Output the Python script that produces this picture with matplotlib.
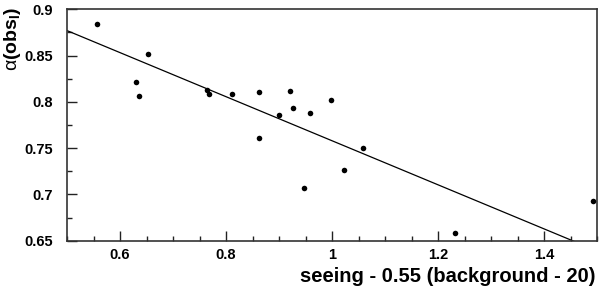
import matplotlib
matplotlib.use('Agg')
import matplotlib.pyplot as plt
import numpy as np
from matplotlib.ticker import MultipleLocator

# measured points
seeing = [0.556, 0.630, 0.636, 0.652, 0.765, 0.767, 0.811, 0.862, 0.862, 0.900,
          0.920, 0.927, 0.947, 0.959, 0.999, 1.022, 1.058, 1.232, 1.492]
alpha_obs = [0.884, 0.821, 0.806, 0.852, 0.813, 0.808, 0.808, 0.811, 0.761, 0.786,
             0.812, 0.793, 0.707, 0.788, 0.802, 0.726, 0.750, 0.658, 0.693]

# straight line fit: alpha = fit_a + fit_b * x
fit_a = 0.996
fit_b = -0.238

plt.rcParams['font.family'] = ['Liberation Sans', 'DejaVu Sans']
plt.rcParams['mathtext.fontset'] = 'custom'
plt.rcParams['mathtext.rm'] = 'Liberation Sans'
plt.rcParams['mathtext.bf'] = 'Liberation Sans:bold'

fig = plt.figure(figsize=(6, 2.89), dpi=100)
ax = fig.add_axes([67/600, 1 - 240.7/289, 530/600, 231.4/289])

ax.scatter(seeing, alpha_obs, s=16, color='black', zorder=3, linewidths=0)

xs = np.array([0.5, 1.5])
ax.plot(xs, fit_a + fit_b * xs, color='black', lw=0.9)

ax.set_xlim(0.5, 1.5)
ax.set_ylim(0.65, 0.9)
ax.xaxis.set_major_locator(MultipleLocator(0.2))
ax.xaxis.set_minor_locator(MultipleLocator(0.05))
ax.yaxis.set_major_locator(MultipleLocator(0.05))
ax.yaxis.set_minor_locator(MultipleLocator(0.025))
ax.xaxis.set_major_formatter(plt.FuncFormatter(lambda v, p: f'{v:g}'))
ax.yaxis.set_major_formatter(plt.FuncFormatter(lambda v, p: f'{v:g}'))

ax.tick_params(which='both', direction='in', width=1, color='#222222')
ax.tick_params(which='major', length=7)
ax.tick_params(which='minor', length=3.5)
ax.tick_params(axis='x', which='major', pad=5.5, labelsize=10.5)
ax.tick_params(axis='y', which='major', pad=10, labelsize=10.5)
for lbl in ax.get_xticklabels() + ax.get_yticklabels():
    lbl.set_fontweight('bold')

for sp in ax.spines.values():
    sp.set_linewidth(1.2)
    sp.set_color('#333333')

ax.text(-0.103, 1.01, r'$\mathrm{\alpha}$(obs$_{\mathbf{I}}$)', transform=ax.transAxes,
        rotation=90, ha='center', va='top', fontsize=14, fontweight='bold')
fig.text(595/600, 1 - 276.5/289, 'seeing - 0.55 (background - 20)',
         ha='right', va='center', fontsize=14.5, fontweight='bold')

fig.savefig('out.png', dpi=100)
